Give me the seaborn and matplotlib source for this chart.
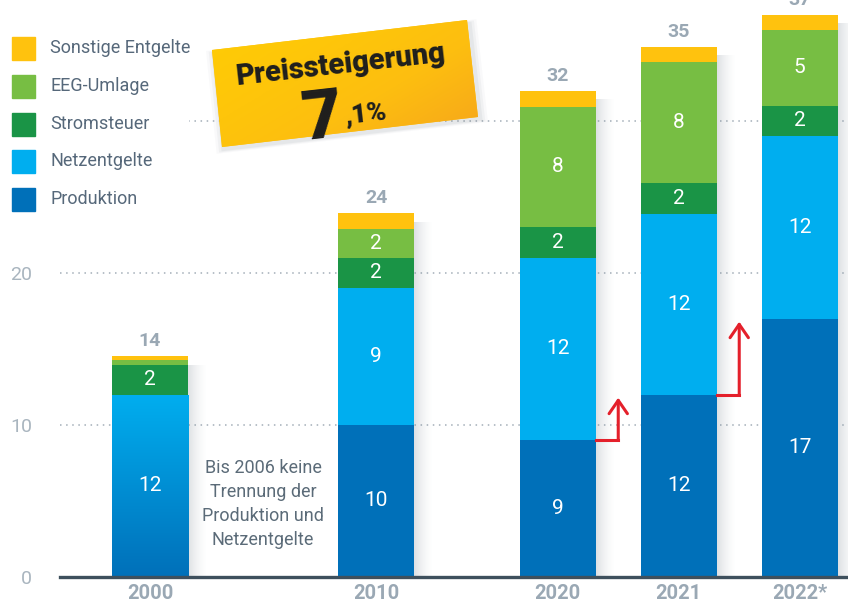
import numpy as np
import pandas as pd
import matplotlib
matplotlib.use("Agg")
import matplotlib.pyplot as plt
from matplotlib.colors import LinearSegmentedColormap, to_rgb
from matplotlib.patches import Polygon, Rectangle
import seaborn as sns

# --- data (ct/kWh) ---
years = ["2000", "2010", "2020", "2021", "2022*"]
produktion = [0.0, 10.0, 9.0, 12.0, 17.0]      # 2000: not split from Netzentgelte
netzentgelte = [12.0, 9.0, 12.0, 11.9, 12.0]
stromsteuer = [1.95, 2.0, 2.0, 2.0, 2.0]
eeg_umlage = [0.33, 1.9, 7.95, 8.0, 5.0]
sonstige = [0.26, 1.05, 1.05, 1.0, 1.0]
totals = [14, 24, 32, 35, 37]

# --- layout / style ---
bar_pos = [0.0, 1.87, 3.37, 4.37, 5.37]
bar_width = 0.63
layer_names = ["Produktion", "Netzentgelte", "Stromsteuer", "EEG-Umlage", "Sonstige Entgelte"]
layer_colors = ["#0070B9", "#00AEEF", "#1A9446", "#77BE43", "#FFC20E"]
layers = [produktion, netzentgelte, stromsteuer, eeg_umlage, sonstige]

sns.set_theme(style="white")
plt.rcParams["font.family"] = ["Roboto", "DejaVu Sans"]

fig = plt.figure(figsize=(8.48, 6.06), dpi=100)
ax = fig.add_axes([60 / 848, 29 / 606, 788 / 848, 577 / 606])

df = pd.DataFrame({"pos": bar_pos, "year": years})
cum = np.cumsum(np.array(layers), axis=0)
for i, name in enumerate(layer_names):
    df[name] = cum[i]

# stacked bars: draw cumulative sums from top layer down
bar_patches = {}
for i in reversed(range(len(layers))):
    n0 = len(ax.patches)
    sns.barplot(data=df, x="pos", y=layer_names[i], native_scale=True, width=bar_width,
                color=layer_colors[i], saturation=1, errorbar=None, linewidth=0, ax=ax)
    bar_patches[layer_names[i]] = ax.patches[n0:]

# 2000: combined Produktion/Netzentgelte bar with gradient
p = bar_patches["Netzentgelte"][0]
grad = np.linspace(0, 1, 256).reshape(-1, 1)
blue_cmap = LinearSegmentedColormap.from_list("blue", ["#00AEEF", "#0070B9"])
im = ax.imshow(grad, cmap=blue_cmap, extent=(p.get_x(), p.get_x() + p.get_width(), 0, p.get_height()),
               origin="upper", aspect="auto", zorder=p.get_zorder() + 0.1, interpolation="bilinear")
im.set_clip_path(p)

# soft shadow on the right of each bar
shade = np.zeros((1, 64, 4))
shade[..., :3] = to_rgb("#7D8A96")
shade[..., 3] = 0.26 * (1 - np.linspace(0, 1, 64)) ** 1.6
top = cum[-1]
for x, t in zip(bar_pos, top):
    xr = x + bar_width / 2
    ax.imshow(shade, extent=(xr, xr + 0.16, 0, t - 0.6), aspect="auto", zorder=0.9,
              interpolation="bilinear")

# gridlines
for v in [10, 20, 30]:
    ax.axhline(v, color="#A3AEB8", lw=1.1, ls=(0, (1, 3)), zorder=0.5)

# segment labels
for i, vals in enumerate(layers):
    for j, v in enumerate(vals):
        if v >= 1.5:
            ax.text(bar_pos[j], cum[i][j] - v / 2, f"{v:.0f}", color="white", fontsize=15,
                    ha="center", va="center", zorder=4)

# totals
for x, t, lbl in zip(bar_pos, top, totals):
    ax.annotate(str(lbl), (x, t), xytext=(0, 4), textcoords="offset points", ha="center",
                va="bottom", fontsize=14, fontweight="bold", color="#9AA8B4",
                annotation_clip=False, zorder=4)

# production increase arrows
red = "#E4202B"
for j0, j1 in [(2, 3), (3, 4)]:
    xr = bar_pos[j0] + bar_width / 2
    xc = xr + 0.185
    y0 = produktion[j0]
    y1 = produktion[j1] - 0.2
    ax.plot([xr, xc], [y0, y0], color=red, lw=2.2, solid_capstyle="projecting", zorder=5)
    ax.annotate("", xy=(xc, y1), xytext=(xc, y0),
                arrowprops=dict(arrowstyle="->,head_length=0.8,head_width=0.55", color=red,
                                lw=2.2, shrinkA=0, shrinkB=0), zorder=5)

ax.text(0.934, 4.8, "Bis 2006 keine\nTrennung der\nProduktion und\nNetzentgelte",
        ha="center", va="center", fontsize=13, color="#5B6B78", linespacing=1.45, zorder=4)

ax.set_xlim(-0.744, 5.769)
ax.set_ylim(0, 577 / 15.2)
ax.set_xticks(bar_pos, years)
ax.set_yticks([0, 10, 20])
ax.tick_params(axis="x", length=0, pad=5, labelsize=14.5, labelcolor="#9AA8B4")
ax.tick_params(axis="y", length=0, pad=20, labelsize=14, labelcolor="#A9B5BF")
for lbl in ax.get_xticklabels():
    lbl.set_fontweight("bold")
ax.set_xlabel("")
ax.set_ylabel("")
for s in ["top", "right", "left"]:
    ax.spines[s].set_visible(False)
ax.spines["bottom"].set_color("#3E505D")
ax.spines["bottom"].set_linewidth(2.4)
ax.set_facecolor("white")

# --- overlay in pixel coords: legend + badge ---
ov = fig.add_axes([0, 0, 1, 1], zorder=3)
ov.set_facecolor("none")
ov.axis("off")

ov.add_patch(Rectangle((0, 25), 188, 195, color="white", zorder=1))
legend_y = [48, 86, 124, 161.5, 199.5]
for yc, i in zip(legend_y, reversed(range(len(layer_names)))):
    ov.add_patch(Rectangle((12, yc - 11.5), 23, 23, color=layer_colors[i], zorder=2))
    ov.text(50, yc, layer_names[i], va="center", ha="left", fontsize=13, color="#56687A", zorder=2)

corners = np.array([[212, 50], [467, 20], [478, 117], [222, 147]], dtype=float)
center = corners.mean(axis=0)
for k, a in [(1.06, 0.04), (1.04, 0.06), (1.02, 0.08)]:
    ov.add_patch(Polygon(center + (corners - center) * k + [2, 3], closed=True,
                         facecolor="#6E7780", alpha=a, edgecolor="none", zorder=1.5))
badge = Polygon(corners, closed=True, facecolor="#FFC20E", edgecolor="none", zorder=2)
ov.add_patch(badge)
xx, yy = np.meshgrid(np.linspace(205, 485, 200), np.linspace(15, 152, 100))
tt = ((xx - 205) / 280 * 0.55 + (yy - 15) / 137 * 0.45) ** 1.4
badge_cmap = LinearSegmentedColormap.from_list("badge", ["#FFCC05", "#FDBE10", "#F5A01E"])
bim = ov.imshow(tt, cmap=badge_cmap, extent=(205, 485, 152, 15), origin="upper", aspect="auto",
                zorder=2.1, interpolation="bilinear")
bim.set_clip_path(badge)

ov.text(341, 73, "Preissteigerung", rotation=6.5, rotation_mode="anchor", ha="center",
        va="baseline", fontsize=21, fontweight="black", color="#1E1E1E", zorder=4)
ov.text(324, 138, "7", rotation=6.5, rotation_mode="anchor", ha="center", va="baseline",
        fontsize=50, fontweight="black", color="#1E1E1E", zorder=4)
ov.text(367, 121, ",1%", rotation=6.5, rotation_mode="anchor", ha="center", va="baseline",
        fontsize=19, fontweight="black", color="#1E1E1E", zorder=4)

ov.set_xlim(0, 848)
ov.set_ylim(606, 0)

fig.savefig("out.png", dpi=100)
